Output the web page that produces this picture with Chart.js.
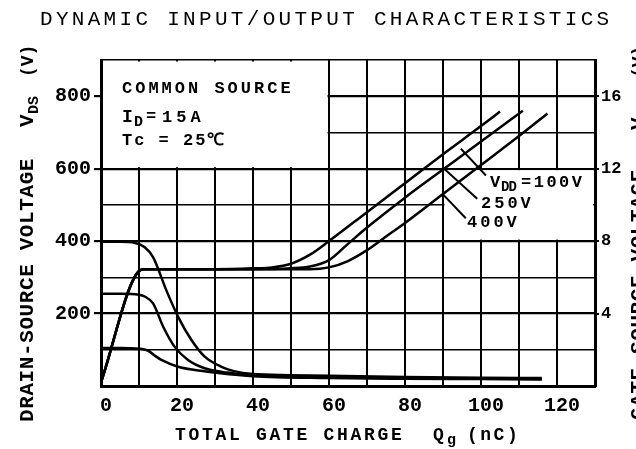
<!DOCTYPE html>
<html lang="en">
<head>
<meta charset="UTF-8">
<title>Dynamic Input/Output Characteristics</title>
<script src="https://cdn.jsdelivr.net/npm/chart.js@4.4.0/dist/chart.umd.min.js"></script>
<style>
  html, body { margin: 0; padding: 0; background: #fff; }
  #wrap { width: 636px; height: 449px; position: relative; }
</style>
</head>
<body>
<div id="wrap"><canvas id="qgChart"></canvas></div>
<script>
// gate-source voltage V_GS (V, right axis) against total gate charge Qg (nC)
const qgVgs100 = [0, 10, 11.5, 20, 30, 40, 45, 50, 55, 60, 70, 80, 90, 100, 105];
const vgs100   = [0.2, 6.35, 6.45, 6.45, 6.45, 6.5, 6.55, 6.75, 7.25, 8.0, 9.6, 11.2, 12.8, 14.35, 15.15];
const qgVgs250 = [0, 10, 11.5, 20, 30, 40, 50, 55, 60, 65, 70, 80, 90, 100, 111];
const vgs250   = [0.2, 6.35, 6.45, 6.45, 6.45, 6.45, 6.5, 6.6, 6.95, 7.85, 8.75, 10.4, 11.95, 13.5, 15.2];
const qgVgs400 = [0, 10, 11.5, 20, 30, 40, 50, 55, 60, 65, 70, 75, 80, 90, 100, 110, 117.5];
const vgs400   = [0.2, 6.35, 6.45, 6.45, 6.45, 6.45, 6.45, 6.45, 6.55, 6.9, 7.5, 8.25, 9.0, 10.6, 12.2, 13.8, 15.05];

// drain-source voltage V_DS (V, left axis)
const qgVds400 = [0, 5, 9, 11.5, 13.7, 17.2, 20.3, 23.8, 27.3, 31.7, 35, 40, 50, 60, 80, 100, 116];
const vds400   = [398, 398, 395, 383, 356, 264, 191, 127, 81, 53, 41, 33, 30, 28, 25, 23, 22];
const qgVds250 = [0, 5, 10, 11.5, 13.7, 16.4, 19.4, 22.9, 27.3, 33.3, 40, 60, 80, 100, 116];
const vds250   = [255, 255, 252, 247, 228, 163, 108, 72, 49, 37, 29, 25, 22, 20, 19];
const qgVds100 = [0, 5, 10, 12.3, 14, 15.9, 20.3, 24.7, 30, 40, 60, 80, 100, 116];
const vds100   = [105, 105, 103, 98, 85, 72, 53, 44, 37, 27, 22, 20, 19, 18];

// axes
const qgGrid    = [0, 10, 20, 30, 40, 50, 60, 70, 80, 90, 100, 110, 120, 130];
const qgLabels  = [0, 20, 40, 60, 80, 100, 120];
const vdsGrid   = [0, 100, 200, 300, 400, 500, 600, 700, 800, 900];
const vdsLabels = [200, 400, 600, 800];
const vgsLabels = [4, 8, 12, 16];

const MONO = '"Liberation Mono", "DejaVu Sans Mono", monospace';

function line(xs, ys, axis) {
  return {
    data: xs.map((x, i) => ({ x: x, y: ys[i] })),
    yAxisID: axis,
    showLine: true,
    borderColor: '#000',
    borderWidth: 2.5,
    pointRadius: 0,
    cubicInterpolationMode: 'monotone',
    fill: false
  };
}

// draws runs of text, each [text, x, size, dy, spacing]
function textRun(ctx, baseY, parts) {
  parts.forEach(([t, x, size, dy, sp]) => {
    ctx.font = 'bold ' + size + 'px ' + MONO;
    ctx.letterSpacing = (sp || 0) + 'px';
    ctx.fillText(t, x, baseY + (dy || 0));
  });
}

const ink = {
  id: 'ink',
  beforeDatasetsDraw(chart) {
    const { ctx, chartArea: a, scales: { x, y } } = chart;
    ctx.save();
    ctx.fillStyle = '#fff';
    // blank panel behind the test conditions
    let r = x.getPixelForValue(60) - 1.5, b = y.getPixelForValue(600) - 1.5;
    ctx.fillRect(a.left + 2, a.top + 1.5, r - a.left - 2, b - a.top - 1.5);
    // blank panel behind the V_DD labels
    const l = x.getPixelForValue(90) + 1.5, t = y.getPixelForValue(600) + 1.5;
    b = y.getPixelForValue(400) - 1.5;
    ctx.fillRect(l, t, a.right - 2 - l, b - t);
    ctx.restore();
  },
  afterDraw(chart) {
    const { ctx, scales: { x, y } } = chart;
    ctx.save();
    ctx.fillStyle = '#000';
    ctx.textBaseline = 'alphabetic';
    ctx.textAlign = 'left';

    // title
    ctx.font = '21px ' + MONO;
    ctx.letterSpacing = '3.3px';
    ctx.fillText('DYNAMIC INPUT/OUTPUT CHARACTERISTICS', 40, 25);

    // x title
    textRun(ctx, 440, [
      ['TOTAL GATE CHARGE', 175, 18, 0, 2.7],
      ['Q', 433, 18, 0, 0],
      ['g', 447, 15, 4, 0],
      ['(nC)', 467, 18, 0, 2.5]
    ]);

    // left title
    ctx.save();
    ctx.translate(33, 422);
    ctx.rotate(-Math.PI / 2);
    textRun(ctx, 0, [
      ['DRAIN-SOURCE VOLTAGE', 0, 21, 0, 0.6],
      ['V', 295, 21, 0, 0],
      ['DS', 308, 15, 5, 0],
      ['(V)', 345, 18, 0, 0]
    ]);
    ctx.restore();

    // right title (runs off the edge of the sheet)
    ctx.save();
    ctx.translate(644, 420);
    ctx.rotate(-Math.PI / 2);
    textRun(ctx, 0, [
      ['GATE-SOURCE VOLTAGE', 0, 21, 0, 0.6],
      ['V', 290, 21, 0, 0],
      ['GS', 303, 15, 5, 0],
      ['(V)', 342, 18, 0, 0]
    ]);
    ctx.restore();

    // test conditions
    textRun(ctx, 93, [['COMMON SOURCE', 122, 17, 0, 3]]);
    textRun(ctx, 122, [
      ['I', 122, 18, 0, 0],
      ['D', 134, 15, 4, 0],
      ['=', 146, 17, -1, 0],
      ['15A', 162, 17, 0, 4]
    ]);
    textRun(ctx, 145, [['Tc = 25\u2103', 122, 17, 0, 2]]);

    // V_DD labels
    textRun(ctx, 187, [
      ['V', 490, 17, 0, 0],
      ['DD', 501, 14, 4, -1],
      ['=100V', 521, 17, 0, 2.5]
    ]);
    textRun(ctx, 208, [['250V', 481, 17, 0, 3]]);
    textRun(ctx, 227, [['400V', 467, 17, 0, 3]]);

    // leader lines from labels to curves
    ctx.strokeStyle = '#000';
    ctx.lineWidth = 2;
    [[94.7, 655, 101.3, 581], [90.3, 600, 99, 517], [89.8, 531, 96, 463]].forEach(p => {
      ctx.beginPath();
      ctx.moveTo(x.getPixelForValue(p[0]), y.getPixelForValue(p[1]));
      ctx.lineTo(x.getPixelForValue(p[2]), y.getPixelForValue(p[3]));
      ctx.stroke();
    });
    ctx.restore();
  }
};

const tickFont = { family: MONO, size: 20, weight: 'bold' };

new Chart(document.getElementById('qgChart'), {
  type: 'scatter',
  data: {
    datasets: [
      line(qgVds400, vds400, 'y'),
      line(qgVds250, vds250, 'y'),
      line(qgVds100, vds100, 'y'),
      line(qgVgs100, vgs100, 'y2'),
      line(qgVgs250, vgs250, 'y2'),
      line(qgVgs400, vgs400, 'y2')
    ]
  },
  options: {
    responsive: true,
    maintainAspectRatio: false,
    animation: false,
    layout: { padding: { top: 60, left: 0, right: 0, bottom: 0 } },
    plugins: { legend: { display: false }, tooltip: { enabled: false } },
    scales: {
      x: {
        type: 'linear',
        min: 0,
        max: 130,
        afterBuildTicks: s => { s.ticks = qgGrid.map(v => ({ value: v })); },
        afterFit: s => { s.height = 63; },
        ticks: {
          autoSkip: false,
          maxRotation: 0,
          padding: 8,
          labelOffset: 5,
          color: '#000',
          font: tickFont,
          callback: v => qgLabels.includes(v) ? String(v) : ''
        },
        grid: { color: '#000', lineWidth: 2, drawTicks: false },
        border: { color: '#000', width: 3 }
      },
      y: {
        min: 0,
        max: 900,
        afterBuildTicks: s => { s.ticks = vdsGrid.map(v => ({ value: v })); },
        afterFit: s => { s.width = 101; },
        ticks: {
          autoSkip: false,
          padding: 3,
          color: '#000',
          font: tickFont,
          callback: v => vdsLabels.includes(v) ? String(v) : ''
        },
        grid: {
          color: '#000',
          lineWidth: c => (c.tick && c.tick.value % 200) ? 1.6 : 2.2,
          tickLength: 7,
          tickColor: c => (c.tick && vdsLabels.includes(c.tick.value)) ? '#000' : 'rgba(0,0,0,0)'
        },
        border: { color: '#000', width: 3 }
      },
      y2: {
        position: 'right',
        min: 0,
        max: 18,
        afterBuildTicks: s => { s.ticks = vgsLabels.map(v => ({ value: v })); },
        afterFit: s => { s.width = 41; },
        ticks: {
          autoSkip: false,
          padding: 2,
          color: '#000',
          font: { family: MONO, size: 17, weight: 'bold' }
        },
        grid: { drawOnChartArea: false, color: '#000', tickLength: 4, lineWidth: 2 },
        border: { color: '#000', width: 3 }
      }
    }
  },
  plugins: [ink]
});
</script>
</body>
</html>
